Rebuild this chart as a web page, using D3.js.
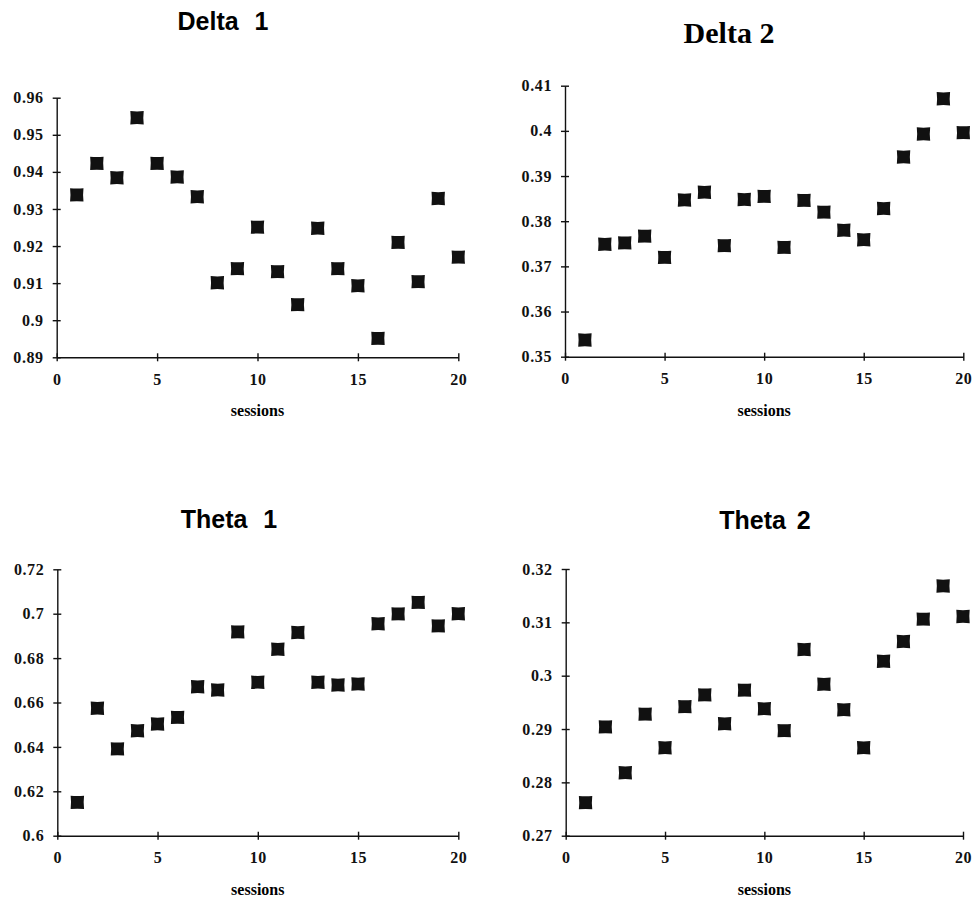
<!DOCTYPE html>
<html>
<head>
<meta charset="utf-8">
<script src="https://cdn.jsdelivr.net/npm/d3@7"></script>
<style>
  body { margin: 0; background: #fff; }
  .tick text { font-family: "Liberation Serif", serif; font-weight: bold; font-size: 16px; letter-spacing: 0.6px; fill: #111; }
  .domain, .tick line { stroke: #111; stroke-width: 1.4px; }
</style>
</head>
<body>
<script>
// sessions 1..20
var sessions = [1,2,3,4,5,6,7,8,9,10,11,12,13,14,15,16,17,18,19,20];

var delta1 = [0.9338,0.9423,0.9384,0.9546,0.9423,0.9386,0.9333,0.9101,0.9139,0.9251,
              0.9131,0.9042,0.9248,0.9139,0.9093,0.8951,0.9210,0.9104,0.9328,0.9170];
var delta2 = [0.3537,0.3749,0.3752,0.3767,0.3720,0.3847,0.3864,0.3746,0.3848,0.3855,
              0.3742,0.3846,0.3820,0.3780,0.3759,0.3828,0.3942,0.3993,0.4071,0.3996];
var theta1 = [0.6150,0.6574,0.6391,0.6473,0.6503,0.6533,0.6671,0.6656,0.6918,0.6691,
              0.6840,0.6915,0.6691,0.6679,0.6683,0.6955,0.6999,0.7051,0.6945,0.7000];
var theta2 = [0.2762,0.2904,0.2818,0.2928,0.2865,0.2942,0.2964,0.2910,0.2973,0.2938,
              0.2897,0.3049,0.2984,0.2936,0.2865,0.3027,0.3064,0.3106,0.3168,0.3111];

var xTicks = [0,5,10,15,20];
var delta1Ticks = [0.89,0.9,0.91,0.92,0.93,0.94,0.95,0.96];
var delta2Ticks = [0.35,0.36,0.37,0.38,0.39,0.4,0.41];
var theta1Ticks = [0.6,0.62,0.64,0.66,0.68,0.7,0.72];
var theta2Ticks = [0.27,0.28,0.29,0.3,0.31,0.32];

var titles = ["Delta 1","Delta 2","Theta 1","Theta 2"];

var svg = d3.select("body").append("svg").attr("width",975).attr("height",901);

// one entry per panel: data + where it sits on the page
var panels = [
  {title: titles[0], vals: delta1, ticks: delta1Ticks, x0: 56.7, x1: 458.3, yt: 97.7, yb: 357.3,
   tx: 223, ty: 30, font: "Liberation Sans", fs: 25, ws: 9},
  {title: titles[1], vals: delta2, ticks: delta2Ticks, x0: 565, x1: 963.3, yt: 85.7, yb: 356.7,
   tx: 729, ty: 43, font: "Liberation Serif", fs: 30, ws: 0},
  {title: titles[2], vals: theta1, ticks: theta1Ticks, x0: 57.3, x1: 458.3, yt: 569.3, yb: 835.7,
   tx: 229, ty: 528, font: "Liberation Sans", fs: 25, ws: 9},
  {title: titles[3], vals: theta2, ticks: theta2Ticks, x0: 565.7, x1: 963, yt: 569, yb: 835.7,
   tx: 765, ty: 529, font: "Liberation Sans", fs: 25, ws: 4}
];

var fmt = function(d) { return String(+d.toFixed(3)); };
// square marker, sides only slightly pinched
var marker = "M-6.7,-6.7Q0,-5.9 6.7,-6.7Q5.9,0 6.7,6.7Q0,5.9 -6.7,6.7Q-5.9,0 -6.7,-6.7Z";

panels.forEach(function(p) {
  var x = d3.scaleLinear().domain([0,20]).range([p.x0, p.x1]);
  var y = d3.scaleLinear().domain(d3.extent(p.ticks)).range([p.yb, p.yt]);
  var g = svg.append("g");

  g.append("g")
      .attr("transform","translate(0," + p.yb + ")")
      .call(d3.axisBottom(x).tickValues(xTicks).tickSize(4).tickSizeOuter(0).tickPadding(12))
      .call(function(a) { a.selectAll(".tick line").attr("y1",-4); });

  g.append("g")
      .attr("transform","translate(" + p.x0 + ",0)")
      .call(d3.axisLeft(y).tickValues(p.ticks).tickFormat(fmt).tickSize(4).tickSizeOuter(0).tickPadding(9))
      .call(function(a) { a.selectAll(".tick line").attr("x1",4); });

  g.selectAll(".pt")
    .data(p.vals)
    .enter().append("path")
      .attr("class","pt")
      .attr("d", marker)
      .attr("fill","#111")
      .attr("transform", function(d,i) { return "translate(" + x(sessions[i]) + "," + y(d) + ")"; });

  g.append("text")
      .attr("x", p.tx).attr("y", p.ty)
      .attr("text-anchor","middle")
      .style("font-family", p.font).style("font-weight","bold")
      .style("font-size", p.fs + "px").style("word-spacing", p.ws + "px")
      .text(p.title);

  g.append("text")
      .attr("x", (p.x0 + p.x1) / 2).attr("y", p.yb + 59)
      .attr("text-anchor","middle")
      .style("font-family","Liberation Serif").style("font-weight","bold")
      .style("font-size","16px")
      .text("sessions");
});
</script>
</body>
</html>
